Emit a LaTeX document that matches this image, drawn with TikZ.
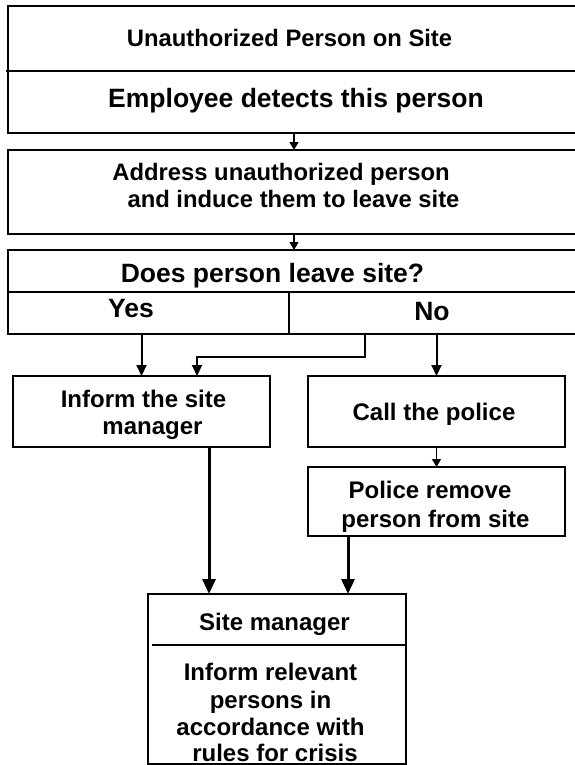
\documentclass[tikz,border=0pt]{standalone}
\usepackage{fontspec}
\setmainfont{Liberation Sans}
\usetikzlibrary{arrows.meta}
\begin{document}
\begin{tikzpicture}[x=1pt,y=-1pt,
  box/.style={draw,line width=1.2pt,inner sep=0pt,outer sep=0pt},
  sepline/.style={line width=1.2pt},
  lbl/.style={font=\bfseries\fontsize{24}{27}\selectfont,anchor=base,inner sep=0pt},
  big/.style={font=\bfseries\fontsize{26.5}{30}\selectfont,anchor=base,inner sep=0pt},
  thinarr/.style={line width=1.3pt,-{Triangle[length=8pt,width=9pt]}},
  midarr/.style={line width=2pt,-{Triangle[length=11pt,width=10pt]}},
  thickarr/.style={line width=3pt,-{Triangle[length=15pt,width=13pt]}}]
\useasboundingbox (0,0) rectangle (575,765);

% boxes
\node[box,minimum width=568pt,minimum height=127pt] (b1) at (292,69.5) {};
\node[box,minimum width=568pt,minimum height=84pt] (b2) at (292,192) {};
\node[box,minimum width=568pt,minimum height=84pt] (b3) at (292,292) {};
\node[box,minimum width=257pt,minimum height=71pt] (inform) at (141.5,411.5) {};
\node[box,minimum width=257pt,minimum height=71pt] (police) at (436.5,411.5) {};
\node[box,minimum width=257pt,minimum height=69pt] (remove) at (436.5,501.5) {};
\node[box,minimum width=258pt,minimum height=170pt] (site) at (277,679) {};

% separators
\draw[sepline] ([shift={(-2pt,-1.5pt)}]b1.west) -- ([yshift=-1.5pt]b1.east);
\draw[sepline] ([xshift=-1pt]b3.west) -- (b3.east);
\draw[sepline] ([xshift=-3pt]b3.center) -- ([xshift=-3pt]b3.south);
\draw[sepline] ([shift={(4pt,-51pt)}]site.north west) -- ([yshift=-51pt]site.north east);

% texts
\node[lbl,font=\bfseries\fontsize{23.8}{27}\selectfont] (t1) at (289.5,47) {Unauthorized Person on Site};
\node[big] (t2) at (296,107) {Employee detects this person};
\node[lbl,font=\bfseries\fontsize{23.8}{27}\selectfont] (t3a) at (281,180) {Address unauthorized person};
\node[lbl,font=\bfseries\fontsize{23.8}{27}\selectfont] (t3b) at (293.5,207) {and induce them to leave site};
\node[big] (t4) at (272.5,282) {Does person leave site?};
\node[big] (tyes) at (131,317) {Yes};
\node[big] (tno) at (432,320) {No};
\node[lbl] (t5a) at (143.5,407) {Inform the site};
\node[lbl] (t5b) at (152.5,434) {manager};
\node[lbl] (t6) at (434,420) {Call the police};
\node[lbl] (t7a) at (430,498) {Police remove};
\node[lbl] (t7b) at (435.5,527) {person from site};
\node[lbl] (t8) at (274.5,630) {Site manager};
\node[lbl] (t9a) at (270.5,680) {Inform relevant};
\node[lbl] (t9b) at (270.5,708) {persons in};
\node[lbl] (t9c) at (270.5,735) {accordance with};
\node[lbl,text depth=0pt] (t9d) at (275,761) {rules for crisis};

% connectors
\draw[thinarr] ([xshift=2pt]b1.south) -- ([xshift=2pt]b2.north);
\draw[thinarr] ([xshift=2pt]b2.south) -- ([xshift=2pt]b3.north);
\draw[midarr] (inform.north |- b3.south) -- (inform.north);
\draw[midarr] ([xshift=73pt]b3.south) -- ++(0,23) -| ([xshift=55.5pt]inform.north);
\draw[midarr] (police.north |- b3.south) -- (police.north);
\draw[thinarr] (police.south) -- (remove.north);
\draw[thickarr] ([xshift=67.5pt]inform.south) -- ([xshift=67.5pt]inform.south |- site.north);
\draw[thickarr] ([xshift=-88.5pt]remove.south) -- ([xshift=-88.5pt]remove.south |- site.north);
\end{tikzpicture}
\end{document}
